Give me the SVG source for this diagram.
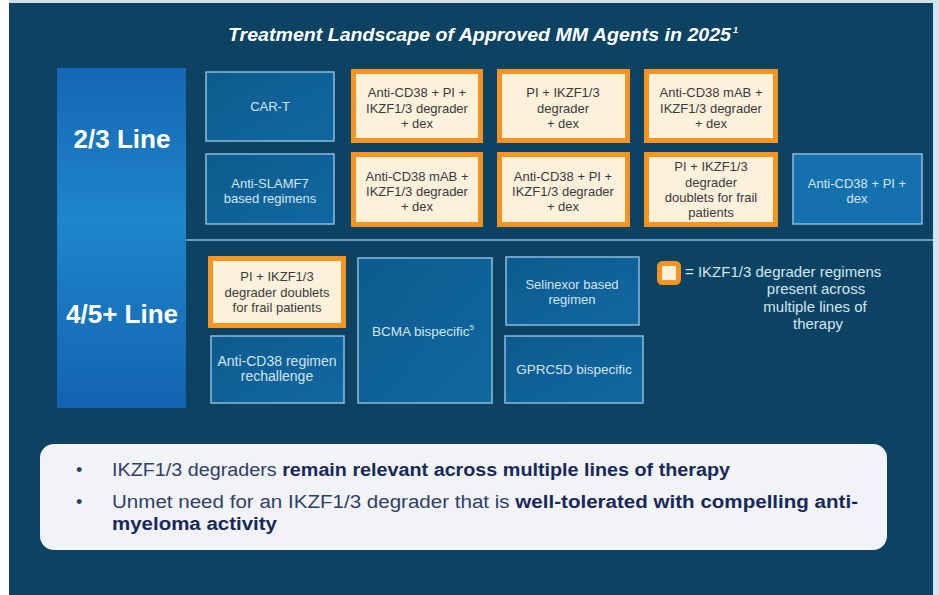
<svg xmlns="http://www.w3.org/2000/svg" width="939" height="595" viewBox="0 0 939 595">
  <defs>
    <linearGradient id="lineCol" x1="0" y1="0" x2="0" y2="1">
      <stop offset="0" stop-color="#1566b4"/>
      <stop offset="0.45" stop-color="#1e86cb"/>
      <stop offset="1" stop-color="#1263b0"/>
    </linearGradient>
    <linearGradient id="blueBox" x1="0" y1="0" x2="1" y2="1">
      <stop offset="0" stop-color="#0d5b8e"/>
      <stop offset="1" stop-color="#1068a1"/>
    </linearGradient>
    <style>
      .frame { fill: #0c4262; }
      .lbl { font-family: "Liberation Sans", Arial, sans-serif; font-size: 13px; text-anchor: middle; }
      .blue rect { fill: url(#blueBox); stroke: #8dbbdd; stroke-width: 1.5; }
      .blue text { fill: #d3e6f3; }
      .bright rect { fill: #1471ad; }
      .orange rect { fill: #fdf1dc; stroke: #f7931e; stroke-width: 5; }
      .orange text { fill: #3a3a3a; }
      .row-label { font-family: "Liberation Sans", Arial, sans-serif; font-size: 26px; font-weight: bold; fill: #ffffff; text-anchor: middle; }
      .key { fill: #d3e6f3; font-size: 15px; }
      .note { font-family: "Liberation Sans", Arial, sans-serif; font-size: 18px; fill: #2f3f68; }
      .note .b { font-weight: bold; fill: #17295b; }
    </style>
  </defs>

  <!-- page frame -->
  <rect x="0" y="0" width="939" height="595" fill="#ffffff"/>
  <rect x="9" y="0" width="930" height="3" fill="#cfe0ea"/>
  <rect x="933" y="0" width="6" height="595" fill="#cfe6f5"/>
  <rect class="frame" x="9" y="3" width="924" height="592"/>

  <!-- title -->
  <g id="title" font-family="Liberation Sans, Arial, sans-serif" font-weight="bold" font-style="italic" fill="#ffffff">
    <text x="228" y="41" font-size="18" textLength="503" lengthAdjust="spacingAndGlyphs">Treatment Landscape of Approved MM Agents in 2025</text>
    <text x="733" y="33" font-size="9">1</text>
  </g>

  <!-- line-of-therapy column -->
  <g id="line-column">
    <rect x="57" y="68" width="129" height="340" fill="url(#lineCol)"/>
    <text class="row-label" x="122" y="148">2/3 Line</text>
    <text class="row-label" x="122" y="323">4/5+ Line</text>
  </g>

  <!-- separator between lines of therapy -->
  <g id="connectors">
    <line x1="186" y1="240" x2="933" y2="240" stroke="#6c9dc1" stroke-width="2"/>
  </g>

  <!-- 2/3 line, row 1 -->
  <g id="car-t" class="blue lbl">
    <rect x="206" y="72" width="128" height="69"/>
    <text x="270" y="111">CAR-T</text>
  </g>
  <g id="cd38-pi-ikzf-dex-a" class="orange lbl">
    <rect x="353.5" y="71.5" width="127" height="69"/>
    <text x="417" y="97">Anti-CD38 + PI +</text>
    <text x="417" y="113">IKZF1/3 degrader</text>
    <text x="417" y="128">+ dex</text>
  </g>
  <g id="pi-ikzf-dex" class="orange lbl">
    <rect x="499.5" y="71.5" width="128" height="69"/>
    <text x="563" y="97">PI + IKZF1/3</text>
    <text x="563" y="113">degrader</text>
    <text x="563" y="128">+ dex</text>
  </g>
  <g id="cd38mab-ikzf-dex-a" class="orange lbl">
    <rect x="646.5" y="71.5" width="129" height="69"/>
    <text x="711" y="97">Anti-CD38 mAB +</text>
    <text x="711" y="113">IKZF1/3 degrader</text>
    <text x="711" y="128">+ dex</text>
  </g>

  <!-- 2/3 line, row 2 -->
  <g id="anti-slamf7" class="blue lbl">
    <rect x="206" y="154" width="128" height="70"/>
    <text x="270" y="188">Anti-SLAMF7</text>
    <text x="270" y="203">based regimens</text>
  </g>
  <g id="cd38mab-ikzf-dex-b" class="orange lbl">
    <rect x="353.5" y="154.5" width="127" height="70"/>
    <text x="417" y="181">Anti-CD38 mAB +</text>
    <text x="417" y="196">IKZF1/3 degrader</text>
    <text x="417" y="211">+ dex</text>
  </g>
  <g id="cd38-pi-ikzf-dex-b" class="orange lbl">
    <rect x="499.5" y="154.5" width="128" height="70"/>
    <text x="563" y="181">Anti-CD38 + PI +</text>
    <text x="563" y="196">IKZF1/3 degrader</text>
    <text x="563" y="211">+ dex</text>
  </g>
  <g id="pi-ikzf-frail-a" class="orange lbl">
    <rect x="646.5" y="154.5" width="129" height="70"/>
    <text x="711" y="171">PI + IKZF1/3</text>
    <text x="711" y="187">degrader</text>
    <text x="711" y="202">doublets for frail</text>
    <text x="711" y="217">patients</text>
  </g>
  <g id="cd38-pi-dex" class="blue bright lbl">
    <rect x="793" y="154" width="129" height="70"/>
    <text x="857" y="188">Anti-CD38 + PI +</text>
    <text x="857" y="203">dex</text>
  </g>

  <!-- 4/5+ line -->
  <g id="pi-ikzf-frail-b" class="orange lbl">
    <rect x="210.5" y="258.5" width="133" height="67"/>
    <text x="277" y="281">PI + IKZF1/3</text>
    <text x="277" y="297">degrader doublets</text>
    <text x="277" y="312">for frail patients</text>
  </g>
  <g id="cd38-rechallenge" class="blue lbl">
    <rect x="211" y="336" width="133" height="67"/>
    <text x="277" y="366" font-size="14">Anti-CD38 regimen</text>
    <text x="277" y="381" font-size="14">rechallenge</text>
  </g>
  <g id="bcma" class="blue lbl">
    <rect x="358" y="258" width="134" height="145"/>
    <text x="423" y="336" font-size="13.5">BCMA bispecific<tspan font-size="8" dy="-6">5</tspan></text>
  </g>
  <g id="selinexor" class="blue lbl">
    <rect x="506" y="257" width="133" height="68"/>
    <text x="572" y="289">Selinexor based</text>
    <text x="572" y="304">regimen</text>
  </g>
  <g id="gprc5d" class="blue lbl">
    <rect x="505" y="336" width="138" height="67"/>
    <text x="574" y="374" font-size="13.5">GPRC5D bispecific</text>
  </g>

  <!-- key -->
  <g id="legend" class="lbl">
    <rect x="659.5" y="263.5" width="19" height="19" rx="3" fill="#fdf1dc" stroke="#f7931e" stroke-width="5"/>
    <text class="key" x="685" y="277" text-anchor="start">= IKZF1/3 degrader regimens</text>
    <text class="key" x="816" y="294">present across</text>
    <text class="key" x="815" y="312">multiple lines of</text>
    <text class="key" x="818" y="329">therapy</text>
  </g>

  <!-- takeaway panel -->
  <g id="takeaways">
    <rect x="40" y="444" width="847" height="106" rx="14" fill="#f2f3f6"/>
    <text class="note" x="76" y="476">•</text>
    <text class="note" x="112" y="476" textLength="618" lengthAdjust="spacingAndGlyphs">IKZF1/3 degraders <tspan class="b">remain relevant across multiple lines of therapy</tspan></text>
    <text class="note" x="76" y="508">•</text>
    <text class="note" x="112" y="508" textLength="746" lengthAdjust="spacingAndGlyphs">Unmet need for an IKZF1/3 degrader that is <tspan class="b">well-tolerated with compelling anti-</tspan></text>
    <text class="note" x="112" y="530" textLength="165" lengthAdjust="spacingAndGlyphs"><tspan class="b">myeloma activity</tspan></text>
  </g>
</svg>
